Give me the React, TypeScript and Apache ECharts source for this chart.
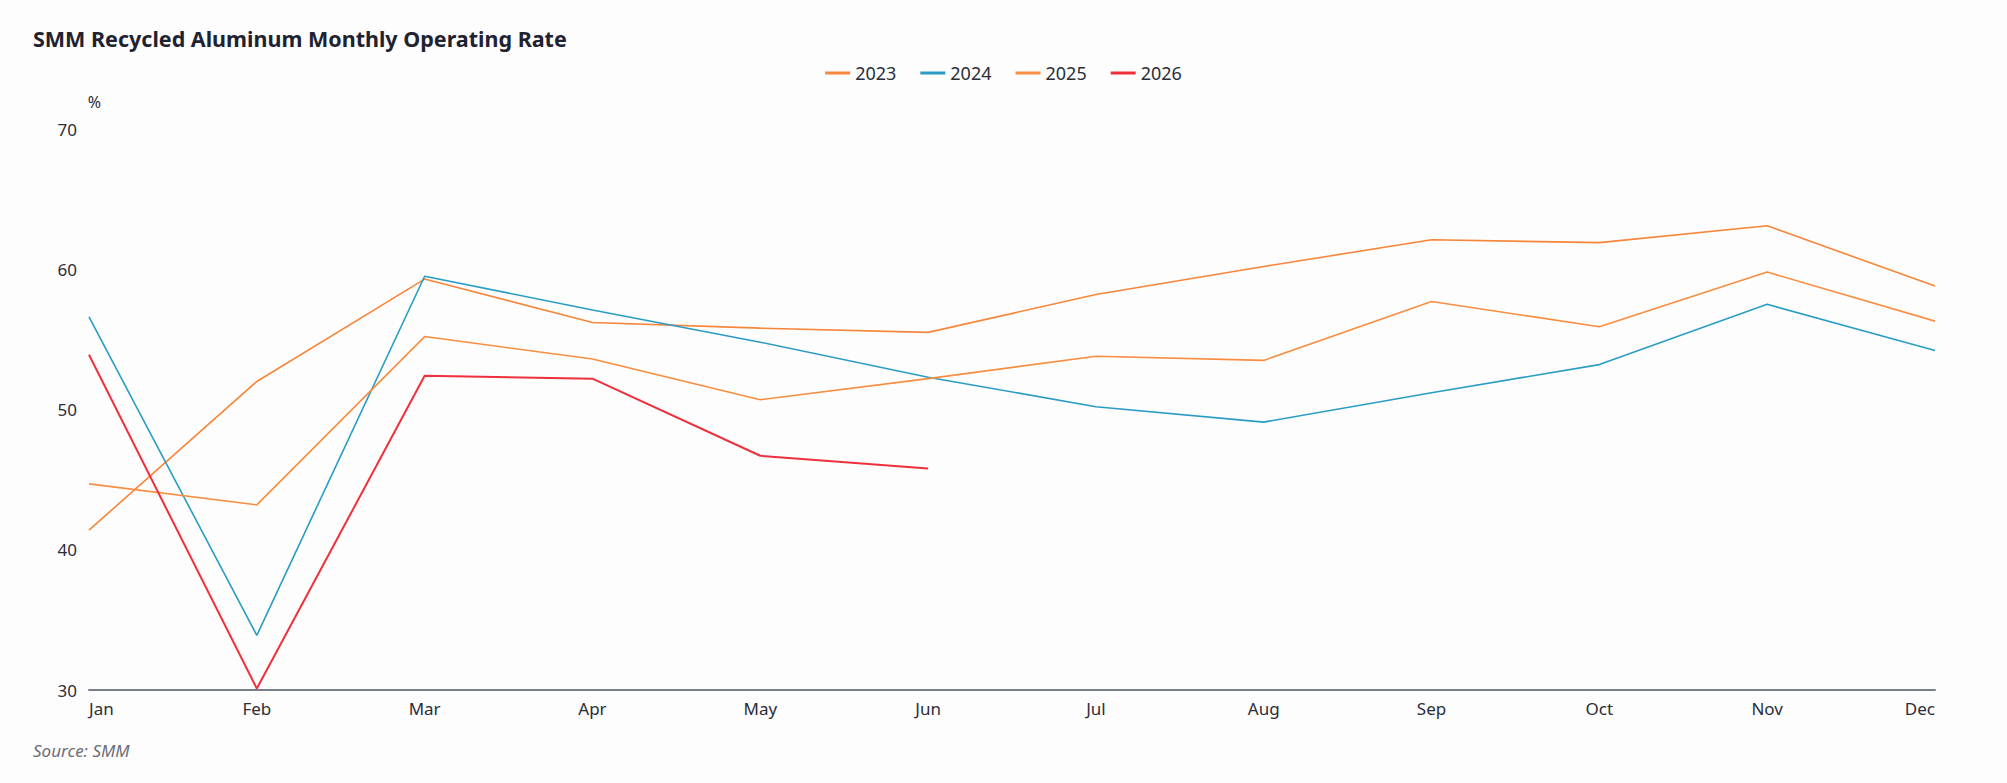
import React, { useEffect, useRef } from "react";
import * as echarts from "echarts";

const months = ["Jan", "Feb", "Mar", "Apr", "May", "Jun", "Jul", "Aug", "Sep", "Oct", "Nov", "Dec"];
const yearNames = ["2023", "2024", "2025", "2026"];
const values2023 = [41.4, 52.0, 59.3, 56.2, 55.8, 55.5, 58.2, 60.2, 62.1, 61.9, 63.1, 58.8];
const values2024 = [56.6, 33.9, 59.5, 57.1, 54.8, 52.3, 50.2, 49.1, 51.2, 53.2, 57.5, 54.2];
const values2025 = [44.7, 43.2, 55.2, 53.6, 50.7, 52.2, 53.8, 53.5, 57.7, 55.9, 59.8, 56.3];
const values2026 = [53.9, 30.1, 52.4, 52.2, 46.7, 45.8];
const yTicks = { min: 30, max: 70, interval: 10 };

const colors = ["#f7853a", "#2a9cc4", "#f98d40", "#ef2f3c"];

export default function App() {
  const ref = useRef<HTMLDivElement>(null);
  useEffect(() => {
    document.body.style.margin = "0";
    const chart = echarts.init(ref.current!, undefined, { renderer: "svg" });
    const allValues = [values2023, values2024, values2025, values2026];
    chart.setOption({
      animation: false,
      backgroundColor: "#fdfdfd",
      textStyle: { fontFamily: "Noto Sans" },
      title: {
        text: "SMM Recycled Aluminum Monthly Operating Rate",
        left: 28,
        top: 22,
        textStyle: { fontSize: 21.5, fontWeight: "bold", color: "#1f2230", fontFamily: "Noto Sans" },
      },
      legend: {
        top: 59,
        left: "center",
        icon: "rect",
        itemWidth: 25,
        itemHeight: 3,
        itemGap: 24,
        textStyle: { fontSize: 18, color: "#2b2d38", fontFamily: "Noto Sans" },
        data: yearNames,
      },
      graphic: [
        {
          type: "text",
          left: 33,
          top: 742,
          style: {
            text: "Source: SMM",
            fontSize: 17,
            fontStyle: "italic",
            fill: "#6b6d78",
            fontFamily: "Noto Sans",
          },
        },
      ],
      grid: { left: 89, right: 72, top: 129, bottom: 93, containLabel: false },
      xAxis: {
        type: "category",
        boundaryGap: false,
        data: months,
        axisLine: { show: true, lineStyle: { color: "#7a7d8a", width: 2 } },
        axisTick: { show: false },
        splitLine: { show: false },
        axisLabel: {
          fontSize: 17,
          color: "#2b2d38",
          margin: 10,
          alignMinLabel: "left",
          alignMaxLabel: "right",
        },
      },
      yAxis: {
        type: "value",
        min: yTicks.min,
        max: yTicks.max,
        interval: yTicks.interval,
        name: "%",
        nameLocation: "end",
        nameGap: 19,
        nameTextStyle: { fontSize: 16, color: "#2b2d38", align: "right", padding: [0, -12, 0, 0] },
        axisLine: { show: false },
        axisTick: { show: false },
        splitLine: { show: false },
        axisLabel: { fontSize: 17, color: "#2b2d38", margin: 12 },
      },
      series: yearNames.map((name, i) => ({
        name,
        type: "line",
        data: allValues[i],
        symbol: "none",
        showSymbol: false,
        color: colors[i],
        lineStyle: { width: i === 3 ? 2 : 1.6, color: colors[i] },
        z: i === 3 ? 5 : 2,
      })),
    });
    return () => chart.dispose();
  }, []);
  return <div ref={ref} style={{ width: 2007, height: 783 }} />;
}
